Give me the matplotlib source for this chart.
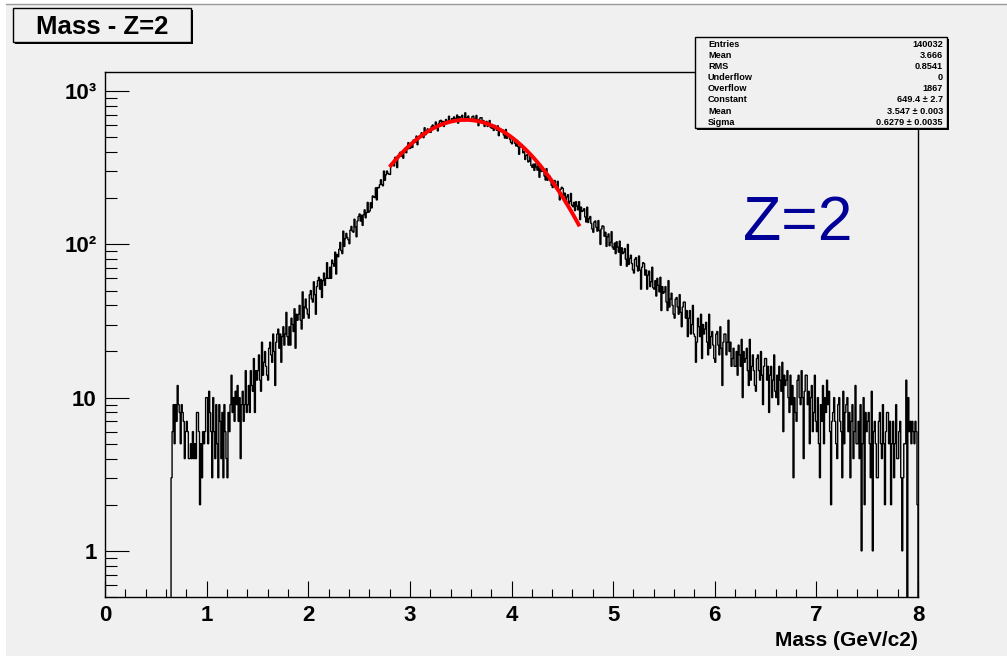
import numpy as np
import matplotlib
matplotlib.use("Agg")
import matplotlib.pyplot as plt
from matplotlib.patches import Rectangle
from matplotlib.lines import Line2D
from matplotlib.ticker import FixedLocator, FixedFormatter, LogLocator, NullFormatter, MultipleLocator

plt.rcParams['font.family'] = ['Liberation Sans', 'DejaVu Sans']

# ---------------- data ----------------
bin_start = 0.65
bin_width = 0.01
counts = [
    3, 6, 9, 5, 9,
    7, 12, 9, 8, 5, 9, 8, 7, 4, 6,
    7, 6, 4, 4, 5, 4, 6, 4, 5, 4,
    8, 8, 6, 2, 5, 3, 6, 5, 6, 10,
    10, 5, 11, 8, 6, 3, 10, 6, 4, 9,
    5, 3, 9, 7, 4, 8, 3, 9, 6, 4,
    3, 8, 6, 9, 14, 8, 10, 7, 11, 9,
    12, 7, 10, 4, 9, 11, 7, 9, 15, 8,
    9, 12, 8, 15, 12, 11, 18, 8, 15, 13,
    15, 19, 13, 11, 23, 14, 17, 20, 16, 14,
    13, 21, 23, 19, 17, 26, 20, 12, 23, 26,
    28, 21, 26, 17, 25, 29, 22, 26, 36, 25,
    22, 29, 22, 33, 30, 27, 38, 21, 35, 32,
    35, 40, 32, 28, 49, 33, 39, 44, 38, 35,
    33, 47, 50, 44, 42, 57, 47, 35, 53, 58,
    61, 51, 59, 45, 58, 65, 54, 60, 76, 60,
    60, 71, 60, 79, 75, 72, 89, 64, 86, 83,
    93, 103, 91, 87, 122, 97, 109, 118, 111, 107,
    101, 124, 131, 122, 120, 146, 130, 112, 142, 152,
    158, 142, 155, 133, 156, 168, 149, 161, 188, 162,
    165, 187, 173, 207, 204, 202, 234, 195, 235, 234,
    245, 264, 246, 241, 301, 262, 284, 301, 291, 287,
    286, 328, 340, 328, 325, 370, 345, 317, 369, 389,
    399, 376, 398, 365, 403, 424, 396, 417, 461, 422,
    425, 455, 429, 479, 470, 464, 509, 447, 505, 499,
    512, 535, 507, 497, 577, 519, 546, 567, 550, 541,
    538, 589, 601, 581, 573, 629, 592, 550, 616, 638,
    645, 611, 635, 588, 632, 653, 614, 635, 686, 632,
    632, 662, 626, 679, 663, 650, 698, 618, 681, 668,
    678, 696, 657, 639, 722, 649, 673, 688, 662, 644,
    637, 682, 687, 658, 643, 694, 647, 595, 656, 671,
    670, 628, 643, 588, 623, 635, 588, 600, 643, 580,
    573, 595, 554, 597, 575, 555, 594, 512, 564, 545,
    547, 557, 517, 494, 562, 492, 506, 514, 485, 463,
    453, 486, 485, 457, 439, 477, 434, 387, 432, 440,
    433, 396, 404, 358, 380, 385, 345, 350, 378, 327,
    318, 334, 304, 335, 320, 305, 334, 274, 313, 299,
    300, 308, 279, 263, 312, 262, 273, 279, 258, 243,
    235, 260, 261, 242, 230, 258, 228, 195, 229, 236,
    232, 208, 216, 185, 204, 211, 184, 191, 215, 180,
    176, 188, 166, 190, 178, 168, 190, 145, 175, 164,
    166, 171, 151, 140, 175, 139, 147, 152, 137, 126,
    120, 140, 142, 129, 122, 143, 123, 100, 126, 132,
    131, 113, 120, 97, 112, 117, 98, 103, 121, 96,
    93, 102, 87, 104, 96, 89, 105, 73, 95, 87,
    89, 94, 80, 72, 100, 74, 81, 85, 75, 68,
    65, 80, 82, 72, 67, 84, 68, 51, 71, 76,
    75, 63, 68, 51, 63, 67, 53, 57, 71, 52,
    51, 58, 46, 60, 54, 49, 61, 37, 53, 48,
    49, 53, 42, 37, 58, 39, 44, 48, 40, 35,
    33, 44, 45, 39, 35, 47, 36, 29, 39, 42,
    42, 33, 37, 25, 33, 37, 26, 30, 40, 26,
    25, 17, 23, 33, 29, 25, 35, 18, 30, 26,
    28, 31, 23, 19, 35, 21, 25, 27, 22, 18,
    17, 26, 27, 22, 19, 29, 21, 12, 23, 26,
    26, 19, 23, 32, 20, 23, 16, 18, 21, 16,
    16, 20, 14, 22, 19, 16, 24, 10, 20, 17,
    18, 21, 15, 12, 24, 13, 16, 19, 15, 12,
    11, 18, 19, 15, 13, 20, 14, 9, 16, 18,
    18, 13, 16, 8, 14, 16, 10, 13, 19, 11,
    10, 14, 9, 16, 13, 11, 17, 6, 14, 12,
    13, 15, 10, 8, 14, 9, 12, 3, 10, 8,
    7, 13, 14, 10, 9, 15, 10, 4, 11, 14,
    14, 9, 11, 5, 10, 12, 6, 8, 14, 7,
    6, 10, 5, 3, 9, 7, 12, 5, 10, 8,
    13, 9, 11, 6, 2, 7, 8, 10, 7, 5,
    4, 9, 10, 7, 6, 3, 11, 5, 8, 9,
    10, 6, 8, 3, 7, 9, 4, 6, 12, 5,
    5, 7, 4, 9, 1, 5, 10, 2, 8, 6,
    7, 8, 5, 3, 11, 1, 6, 7, 5, 3,
    3, 7, 8, 5, 4, 9, 5, 2, 6, 8,
    8, 5, 7, 2, 5, 7, 3, 5, 9, 4,
    4, 6, 7, 3, 1, 3, 5, 5, 13, 0,
    10, 6, 7, 5, 7, 6, 5, 7, 6, 2,
]

# Gaussian fit parameters (from the stats box) and fit range
fit_constant = 649.4
fit_mean = 3.547
fit_sigma = 0.6279
fit_range = [2.80, 4.67]

x_tick_values = [0, 1, 2, 3, 4, 5, 6, 7, 8]
x_tick_labels = ['0', '1', '2', '3', '4', '5', '6', '7', '8']
y_tick_values = [1, 10, 100, 1000]
y_tick_labels = ['1', '10', '10\u00b2', '10\u00b3']

stats_names = ['Entries', 'Mean', 'RMS', 'Underflow', 'Overflow', 'Constant', 'Mean', 'Sigma']
stats_values = ['140032', '3.666', '0.8541', '0', '1867',
                '649.4 \u00b1 2.7', '3.547 \u00b1 0.003', '0.6279 \u00b1 0.0035']

title_text = 'Mass - Z=2'
xlabel_text = 'Mass (GeV/c2)'
annot_text = 'Z=2'

# ---------------- figure ----------------
W, H = 1007, 656
BG = '#f0f0f0'
fig = plt.figure(figsize=(W / 100, H / 100), dpi=100)
fig.patch.set_facecolor('white')


def fx(px):
    return px / W


def fy(py):
    return 1 - py / H


# canvas background with thin border at top/left
fig.add_artist(Rectangle((fx(6), 0), 1 - fx(6), fy(4), transform=fig.transFigure,
                         facecolor=BG, edgecolor='none', zorder=0))
fig.add_artist(Line2D([fx(6), 1], [fy(4), fy(4)], transform=fig.transFigure,
                      color='#9a9a9a', lw=1.0, zorder=1))

ax = fig.add_axes([fx(105), fy(597), (918 - 105) / W, (597 - 72) / H])
ax.set_facecolor(BG)

counts_arr = np.array(counts, dtype=float)
edges = bin_start + bin_width * np.arange(len(counts_arr) + 1)
ax.stairs(counts_arr, edges, baseline=0, color='black', lw=1.0, zorder=3)

xf = np.linspace(fit_range[0], fit_range[1], 300)
yf = fit_constant * np.exp(-0.5 * ((xf - fit_mean) / fit_sigma) ** 2)
ax.plot(xf, yf, color='#ff0000', lw=2.8, solid_capstyle='butt', zorder=4)

ax.set_yscale('log')
ax.set_xlim(0, 8)
ax.set_ylim(0.5, 1333)

ax.xaxis.set_major_locator(FixedLocator(x_tick_values))
ax.xaxis.set_major_formatter(FixedFormatter(x_tick_labels))
ax.xaxis.set_minor_locator(MultipleLocator(0.2))
ax.yaxis.set_major_locator(FixedLocator(y_tick_values))
ax.yaxis.set_major_formatter(FixedFormatter(y_tick_labels))
ax.yaxis.set_minor_locator(LogLocator(base=10, subs=(2, 3, 4, 5, 6, 7, 8, 9)))
ax.yaxis.set_minor_formatter(NullFormatter())

ax.tick_params(axis='both', which='both', direction='in', top=False, right=False,
               width=0.8, color='black')
ax.tick_params(axis='x', which='major', length=11.5, pad=6, labelsize=16)
ax.tick_params(axis='x', which='minor', length=5.8)
ax.tick_params(axis='y', which='major', length=17.3, pad=6, labelsize=16)
ax.tick_params(axis='y', which='minor', length=8.6)
for lab in ax.get_xticklabels() + ax.get_yticklabels():
    lab.set_fontweight('bold')

for sp in ax.spines.values():
    sp.set_linewidth(1.0)
    sp.set_color('black')

ax.set_xlabel(xlabel_text, loc='right', fontsize=15, fontweight='bold', labelpad=3)

# Title box (with shadow)
fig.add_artist(Rectangle((fx(15), fy(44)), (191 - 13) / W, (42 - 8) / H,
                         transform=fig.transFigure, facecolor='black', edgecolor='black', lw=0, zorder=5))
fig.add_artist(Rectangle((fx(13), fy(42)), (191 - 13) / W, (42 - 8) / H,
                         transform=fig.transFigure, facecolor=BG, edgecolor='black', lw=1.0, zorder=6))
fig.text(fx(102), fy(34), title_text, ha='center', va='baseline', fontsize=18.5,
         fontweight='bold', zorder=7)

# Stats box (with shadow)
fig.add_artist(Rectangle((fx(697), fy(130)), (947 - 695) / W, (128 - 37) / H,
                         transform=fig.transFigure, facecolor='black', edgecolor='black', lw=0, zorder=5))
fig.add_artist(Rectangle((fx(695), fy(128)), (947 - 695) / W, (128 - 37) / H,
                         transform=fig.transFigure, facecolor=BG, edgecolor='black', lw=1.0, zorder=6))
row_y0, row_dy = 43.5, 11.1
for i, (nm, val) in enumerate(zip(stats_names, stats_values)):
    yy = fy(row_y0 + i * row_dy)
    fig.text(fx(708), yy, nm, ha='left', va='center_baseline', fontsize=6.6,
             fontweight='bold', zorder=7)
    fig.text(fx(943), yy, val, ha='right', va='center_baseline', fontsize=6.6,
             fontweight='bold', zorder=7)

# Z=2 annotation
fig.text(fx(798), fy(240), annot_text, ha='center', va='baseline', fontsize=45,
         color='#000099', zorder=7)

fig.savefig('out.png', dpi=100, facecolor=fig.get_facecolor())
